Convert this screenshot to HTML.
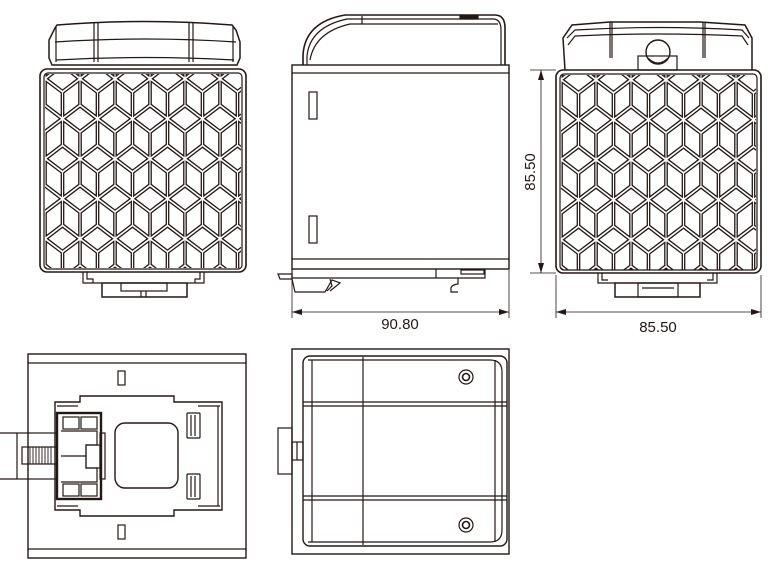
<!DOCTYPE html>
<html><head><meta charset="utf-8"><style>
html,body{margin:0;padding:0;background:#fff;}
svg{display:block;}
text{font-family:"Liberation Sans",sans-serif;font-size:15px;fill:#231815;}
</style></head><body>
<svg id="s" width="782" height="563" viewBox="0 0 782 563" xmlns="http://www.w3.org/2000/svg" fill="none" stroke="#231815" stroke-width="1.2">
<defs>
<clipPath id="cl"><rect x="45" y="74" width="196" height="194"/></clipPath>
<clipPath id="cr"><rect x="561" y="75" width="195" height="195"/></clipPath>
<marker id="ar" viewBox="0 0 10 6" refX="10" refY="3" markerWidth="10" markerHeight="6" orient="auto-start-reverse" markerUnits="userSpaceOnUse"><path d="M0,0 L10,3 L0,6 Z" fill="#231815" stroke="none"/></marker>
</defs>

<!-- LEFT FRONT VIEW -->
<path d="M52,65 L49,58 L49,40 L55,28 L57,25 Q145,18 232,25 L236,30 L240,42 L240,58 L237,65 Z" stroke-width="1.5"/>
<path d="M56,60 Q145,55 234,60"/>
<path d="M55,42 Q145,36 236,42"/>
<line x1="94" y1="23" x2="94" y2="62"/><line x1="98" y1="22" x2="98" y2="62"/>
<line x1="189" y1="22" x2="189" y2="62"/><line x1="193" y1="23" x2="193" y2="62"/>
<line x1="56" y1="27" x2="56" y2="62"/><line x1="233" y1="27" x2="233" y2="62"/>
<rect x="40" y="69" width="206" height="203" rx="7" stroke-width="1.6"/>
<rect x="44" y="73" width="198" height="196" rx="4"/>
<g id="gl" clip-path="url(#cl)" stroke-width="1.3"></g>
<path d="M83,272 L83,283 L102,283 M204,272 L204,283 L187,283"/>
<path d="M87,272 L87,279 L93,279 L93,283 M200,272 L200,279 L195,279 L195,283"/>
<rect x="102" y="283" width="85" height="14" stroke-width="1.5"/>
<rect x="121" y="283" width="46" height="8"/>
<line x1="141" y1="291" x2="141" y2="297"/><line x1="146" y1="291" x2="146" y2="297"/>

<!-- MIDDLE SIDE VIEW -->
<path d="M303,65 L303,55 Q305,22 345,15 L495,15 Q505,15 505,28 L505,65" stroke-width="1.6"/>
<path d="M307,65 L307,56 Q310,27 347,19 L493,19 Q501,19 501,30 L501,65"/>
<path d="M310,60 Q315,32 350,24 L498,24"/>
<line x1="362" y1="16" x2="362" y2="24"/>
<rect x="460" y="16" width="18" height="3" fill="#231815"/>
<rect x="292" y="65" width="217" height="204" stroke-width="1.4"/>
<line x1="292" y1="73" x2="509" y2="73"/>
<line x1="292" y1="259" x2="509" y2="259"/>
<rect x="309" y="92" width="8" height="27"/>
<rect x="309" y="216" width="8" height="27"/>
<path d="M292,269 L292,278 L485,278 L485,269"/>
<line x1="436" y1="269" x2="436" y2="278"/>
<rect x="461" y="270" width="23" height="4"/>
<path d="M278,274 L292,274 L292,279 L280,279 Z"/>
<path d="M292,279 L295,292 L325,292 L332,280 L340,283 L330,291"/>
<path d="M330,279 L332,286 L327,291"/>
<path d="M458,278 L458,284 Q450,285 451,290 L451,292 L458,292"/>
<line x1="292" y1="280" x2="292" y2="318" stroke-width="0.8"/>
<line x1="509" y1="270" x2="509" y2="318" stroke-width="0.8"/>
<line x1="292" y1="312" x2="509" y2="312" stroke-width="0.8" marker-start="url(#ar)" marker-end="url(#ar)"/>
<text x="400" y="329" text-anchor="middle" stroke="none">90.80</text>

<!-- RIGHT FRONT VIEW -->
<path d="M565,70 L563,38 L572,25 L610,22 L700,22 L745,25 L752,38 L752,70" stroke-width="1.5"/>
<path d="M567,38 L575,30 Q658,25 742,30 L749,38 M568,45 L575,36 Q658,32 742,36 L748,45"/>
<line x1="610" y1="22" x2="610" y2="58"/><line x1="612" y1="22" x2="612" y2="58"/>
<line x1="703" y1="22" x2="703" y2="58"/><line x1="705" y1="22" x2="705" y2="58"/>
<rect x="638" y="56" width="39" height="14"/>
<circle cx="658" cy="52" r="12" stroke-width="1.4"/>
<path d="M648,58 Q658,68 668,58"/>
<rect x="556" y="70" width="205" height="203" rx="7" stroke-width="1.6"/>
<rect x="560" y="74" width="197" height="196" rx="4"/>
<g id="gr" clip-path="url(#cr)" stroke-width="1.3"></g>
<path d="M598,273 L598,283 L615,283 M717,273 L717,283 L700,283"/>
<path d="M602,273 L602,280 L608,280 M713,273 L713,280 L707,280"/>
<rect x="615" y="283" width="85" height="14" stroke-width="1.5"/>
<rect x="638" y="283" width="40" height="14"/>
<line x1="642" y1="288" x2="674" y2="288"/>
<line x1="530" y1="70" x2="556" y2="70" stroke-width="0.8"/>
<line x1="530" y1="273" x2="556" y2="273" stroke-width="0.8"/>
<line x1="541" y1="70" x2="541" y2="273" stroke-width="0.8" marker-start="url(#ar)" marker-end="url(#ar)"/>
<text x="0" y="0" text-anchor="middle" stroke="none" transform="translate(535,172) rotate(-90)">85.50</text>
<line x1="556" y1="275" x2="556" y2="318" stroke-width="0.8"/>
<line x1="761" y1="275" x2="761" y2="318" stroke-width="0.8"/>
<line x1="556" y1="312" x2="761" y2="312" stroke-width="0.8" marker-start="url(#ar)" marker-end="url(#ar)"/>
<text x="658" y="332" text-anchor="middle" stroke="none">85.50</text>

<!-- BOTTOM LEFT VIEW -->
<rect x="28" y="354" width="218" height="204" stroke-width="1.4"/>
<line x1="28" y1="363" x2="246" y2="363"/>
<line x1="28" y1="549" x2="246" y2="549"/>
<rect x="118" y="371" width="7" height="14"/>
<rect x="118" y="525" width="7" height="14"/>
<path d="M55,402 L80,402 L80,396 L174,396 L174,402 L222,402 L222,510 L174,510 L174,516 L80,516 L80,510 L55,510 Z" stroke-width="1.4"/>
<line x1="57" y1="406" x2="78" y2="406"/><line x1="198" y1="406" x2="220" y2="406"/>
<line x1="57" y1="506" x2="78" y2="506"/><line x1="198" y1="506" x2="220" y2="506"/>
<line x1="218" y1="406" x2="218" y2="506"/>
<rect x="57" y="413" width="44" height="86" stroke-width="2.4"/>
<rect x="63" y="417" width="16" height="12"/><rect x="81" y="417" width="16" height="12"/>
<rect x="63" y="484" width="16" height="12"/><rect x="81" y="484" width="16" height="12"/>
<path d="M61,431 L97,431 L97,445 L86,445 L86,468 L97,468 L97,482 L61,482"/>
<rect x="86" y="445" width="14" height="23"/>
<rect x="100" y="433" width="5" height="46"/>
<line x1="61" y1="456" x2="86" y2="456"/>
<rect x="17" y="433" width="40" height="46"/>
<rect x="22" y="447" width="35" height="17"/>
<g stroke-width="0.9"><line x1="30" y1="447" x2="30" y2="464"/><line x1="33" y1="447" x2="33" y2="464"/><line x1="36" y1="447" x2="36" y2="464"/><line x1="39" y1="447" x2="39" y2="464"/><line x1="42" y1="447" x2="42" y2="464"/><line x1="45" y1="447" x2="45" y2="464"/><line x1="48" y1="447" x2="48" y2="464"/><line x1="51" y1="447" x2="51" y2="464"/></g>
<line x1="0" y1="433" x2="17" y2="433"/><line x1="0" y1="479" x2="17" y2="479"/>
<rect x="115" y="423" width="63" height="65" rx="10" stroke-width="1.4"/>
<rect x="187" y="413" width="13" height="25" rx="1"/><line x1="191" y1="415" x2="191" y2="436"/><line x1="195" y1="415" x2="195" y2="436"/>
<rect x="187" y="474" width="13" height="25" rx="1"/><line x1="191" y1="476" x2="191" y2="497"/><line x1="195" y1="476" x2="195" y2="497"/>

<!-- BOTTOM RIGHT VIEW -->
<rect x="292" y="349" width="217" height="205" stroke-width="1.4"/>
<rect x="303" y="356" width="204" height="190" rx="7" stroke-width="1.4"/>
<path d="M308,360 L490,360 Q502,360 502,372 L502,530 Q502,542 490,542 L308,542"/>
<line x1="312" y1="360" x2="312" y2="542"/>
<line x1="363" y1="357" x2="363" y2="545"/>
<line x1="495" y1="360" x2="495" y2="542"/>
<line x1="303" y1="402" x2="507" y2="402"/><line x1="303" y1="406" x2="507" y2="406"/>
<line x1="303" y1="496" x2="507" y2="496"/><line x1="303" y1="500" x2="507" y2="500"/>
<circle cx="466" cy="377" r="7"/><circle cx="466" cy="377" r="3.5" stroke-width="1.6"/>
<circle cx="466" cy="525" r="7"/><circle cx="466" cy="525" r="3.5" stroke-width="1.6"/>
<rect x="278" y="428" width="14" height="46"/>
<rect x="292" y="442" width="11" height="18"/>
<line x1="297" y1="442" x2="297" y2="460"/>
</svg>
<script>
(function(){
var NS="http://www.w3.org/2000/svg";
function cubes(g,x0,y0,x1,y1){
 var w=35,H=26.7,P=40;
 function face(pts){
  var cx=0,cy=0;pts.forEach(function(p){cx+=p[0];cy+=p[1];});cx/=pts.length;cy/=pts.length;
  var k=0.86,s=pts.map(function(p){return (cx+(p[0]-cx)*k).toFixed(1)+","+(cy+(p[1]-cy)*k).toFixed(1);}).join(" ");
  var e=document.createElementNS(NS,"polygon");e.setAttribute("points",s);g.appendChild(e);
 }
 var r=0;
 for(var y=y0-P;y<y1+P;y+=P,r++){
  for(var x=x0-w+(r%2?w/2:0);x<x1+w;x+=w){
   var T=[x,y-H],UR=[x+w/2,y-H/2],LR=[x+w/2,y+H/2],B=[x,y+H],LL=[x-w/2,y+H/2],UL=[x-w/2,y-H/2],C=[x,y];
   face([T,UR,C,UL]);face([UL,C,B,LL]);face([C,UR,LR,B]);
  }
 }
}
cubes(document.getElementById("gl"),45,92,241,268);
cubes(document.getElementById("gr"),561,93,756,270);
})();
</script>
</body></html>
